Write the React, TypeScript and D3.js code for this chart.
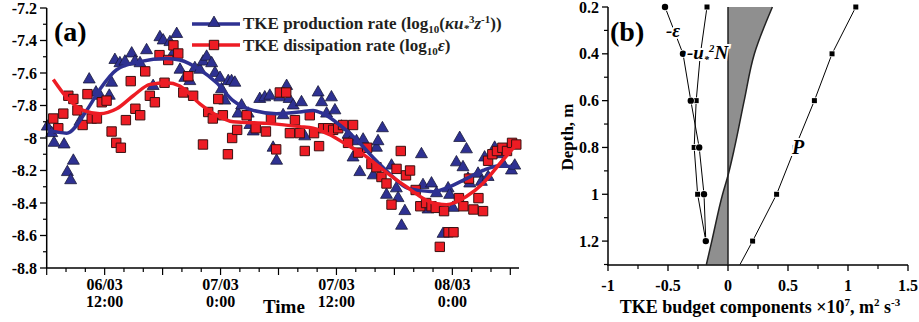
import React from "react";
import * as d3 from "d3";

// panel (a): hours after 06/03 06:00
const prodHours = [0.06, 0.52, 0.76, 1.8, 2.14, 2.48, 2.76, 3.44, 4.4, 5.1, 5.52, 6.48, 6.72, 7.06, 7.58, 8.1, 8.8, 9.14, 9.66, 10.34, 11.02, 11.72, 12.06, 12.76, 13.46, 13.1, 13.8, 14.3, 14.82, 15.34, 15.86, 16.2, 16.56, 17.08, 17.42, 17.94, 18.1, 18.44, 18.8, 19.14, 19.48, 19.82, 20.18, 20.86, 21.04, 21.38, 22.06, 22.58, 23.1, 23.44, 23.8, 24.14, 24.48, 24.84, 25.1, 25.52, 26.38, 26.72, 28.1, 28.46, 28.98, 29.48, 29.84, 30.52, 31.2, 31.56, 31.72, 32.08, 32.42, 32.76, 33.8, 34.14, 34.3, 34.76, 35.18, 35.7, 36.2, 36.38, 36.74, 37.08, 38.8, 38.96, 39.48, 39.84, 40.36, 41.04, 41.56, 41.72, 42.06, 42.42, 42.76, 43.1, 43.46, 43.62, 43.8, 44.66, 45, 45.34, 45.7, 46.38, 46.9, 47.24, 48.12, 48.46];
const prodValues = [-7.93, -7.97, -8.03, -8.04, -8.21, -8.26, -8.14, -7.9, -7.64, -7.72, -7.74, -7.74, -7.66, -7.52, -7.54, -7.53, -7.48, -7.53, -7.54, -7.46, -7.68, -7.38, -7.4, -7.41, -7.36, -7.48, -7.58, -7.63, -7.65, -7.57, -7.58, -7.53, -7.5, -7.54, -7.6, -7.63, -7.7, -7.77, -7.65, -7.65, -7.66, -7.85, -7.8, -7.85, -7.92, -7.96, -7.76, -7.75, -7.74, -8.06, -8.14, -7.75, -7.86, -7.68, -7.76, -7.8, -7.78, -7.99, -7.72, -7.78, -7.85, -7.75, -7.83, -7.93, -7.98, -8.01, -8.12, -8.02, -8.21, -8.01, -8.23, -8.06, -8.02, -7.94, -8.35, -8.17, -8.31, -8.37, -8.54, -8.45, -8.1, -8.29, -8.44, -8.28, -8.34, -8.59, -8.31, -8.35, -8.43, -8.15, -8.0, -8.18, -8.07, -8.25, -8.28, -8.22, -8.27, -8.12, -8.24, -8.06, -8.1, -8.16, -8.2, -8.17];

const dissHours = [0.68, 1.2, 1.72, 2.24, 2.76, 3.18, 3.72, 4.22, 4.66, 5.2, 5.7, 6.2, 6.72, 7.2, 7.68, 8.2, 8.7, 9.18, 9.68, 10.2, 10.68, 11.2, 11.68, 12.2, 12.58, 13.12, 13.62, 14.14, 14.66, 15.16, 16.18, 16.72, 17.2, 17.76, 18.24, 18.76, 19.2, 19.72, 20.7, 21.64, 22.7, 23.22, 23.76, 24.14, 24.8, 25.18, 25.7, 26.2, 26.72, 27.24, 27.68, 28.2, 28.62, 29.14, 29.66, 30.18, 30.68, 31.2, 31.72, 32.24, 33.18, 33.62, 34.14, 34.66, 35.18, 35.7, 36.22, 36.66, 37.2, 37.62, 38.2, 38.68, 39.28, 39.84, 40.28, 40.7, 41.14, 41.6, 42.12, 42.68, 43.14, 43.72, 44.18, 44.7, 45.18, 45.7, 46.14, 46.62, 47.18, 47.66, 48.18, 48.62];
const dissValues = [-7.88, -7.94, -7.85, -7.74, -7.76, -7.83, -7.92, -7.73, -7.88, -7.88, -7.78, -7.77, -7.96, -8.03, -8.06, -7.89, -7.65, -7.82, -7.86, -7.59, -7.74, -7.78, -7.49, -7.66, -7.52, -7.43, -7.48, -7.72, -7.62, -7.74, -8.04, -7.84, -7.88, -7.76, -7.86, -8.1, -8.0, -7.95, -7.86, -7.94, -7.96, -7.88, -8.07, -7.72, -7.72, -7.97, -7.89, -7.97, -8.08, -7.86, -7.97, -8.05, -7.94, -7.94, -7.95, -7.94, -7.92, -8.03, -7.92, -8.09, -8.06, -8.16, -8.18, -8.24, -8.28, -8.41, -8.19, -8.08, -8.23, -8.2, -8.32, -8.42, -8.4, -8.42, -8.43, -8.67, -8.45, -8.58, -8.58, -8.37, -8.42, -8.25, -8.44, -8.37, -8.45, -8.14, -8.1, -8.08, -8.06, -8.08, -8.03, -8.04];

// smoothed fits
const prodFitHours = [0.13, 2.07, 4.14, 5.51, 7.24, 9.65, 12.41, 13.79, 15.86, 17.59, 19.3, 21.37, 23.79, 26.2, 27.58, 28.61, 30.34, 32.07, 33.79, 35.51, 37.41, 40, 41.72, 43.45, 45.16, 46.88, 48.44];
const prodFitValues = [-7.95, -7.97, -7.83, -7.7, -7.58, -7.53, -7.51, -7.52, -7.58, -7.66, -7.77, -7.83, -7.85, -7.84, -7.83, -7.85, -7.92, -8.01, -8.12, -8.22, -8.31, -8.33, -8.3, -8.25, -8.2, -8.17, -8.18];
const dissFitHours = [0.68, 2.07, 3.79, 5.51, 7.24, 8.96, 10.69, 12.41, 13.79, 15.86, 17.59, 19.3, 22.76, 26.2, 27.58, 29.31, 31.03, 32.75, 34.48, 37.24, 40, 41.38, 43.45, 45.16, 46.88, 48.62];
const dissFitValues = [-7.64, -7.75, -7.83, -7.85, -7.82, -7.74, -7.67, -7.66, -7.68, -7.79, -7.86, -7.9, -7.91, -7.93, -7.94, -7.98, -8.04, -8.1, -8.18, -8.3, -8.4, -8.41, -8.36, -8.28, -8.16, -8.04];

const timeTickHours = [6, 18, 30, 42];
const timeTickLabels = [["06/03", "12:00"], ["07/03", "0:00"], ["07/03", "12:00"], ["08/03", "0:00"]];

// panel (b)
const depths = [0.2, 0.4, 0.6, 0.8, 1.0, 1.2];
const epsValues = [-0.525, -0.375, -0.31, -0.24, -0.2, -0.185];
const buoyValues = [-0.175, -0.23, -0.265, -0.282, -0.253, -0.185];
const pDepths = [0.2, 0.4, 0.6, 0.8, 1.0, 1.2, 1.3];
const pValues = [1.065, 0.867, 0.72, 0.56, 0.405, 0.205, 0.1];
const residDepths = [0.2, 0.4, 0.6, 0.8, 0.92, 1.0, 1.2, 1.3];
const residValues = [0.37, 0.22, 0.135, 0.055, 0, -0.045, -0.135, -0.18];

const FONT = "'Liberation Serif', 'Times New Roman', serif";
const BLUE = "#2e3192";
const RED = "#ed1c24";

const App = () => {
  // panel a scales
  const xa = d3.scaleLinear().domain([0, 48.9]).range([46.7, 519]);
  const ya = d3.scaleLinear().domain([-8.8, -7.2]).range([268, 8]);
  // panel b scales
  const xb = d3.scaleLinear().domain([-1, 1.5]).range([608, 908]);
  const yb = d3.scaleLinear().domain([0.2, 1.3]).range([7, 264.5]);

  const tri = d3.symbol(d3.symbolTriangle, 62)();
  const sq = d3.symbol(d3.symbolSquare, 88)();

  const fitLine = d3.line<number>().curve(d3.curveMonotoneX);
  const prodFit = fitLine(prodFitHours.map((h, i) => [xa(h), ya(prodFitValues[i])]) as any);
  const dissFit = fitLine(dissFitHours.map((h, i) => [xa(h), ya(dissFitValues[i])]) as any);

  const yaMajor = d3.range(-8.8, -7.19, 0.2);
  const yaMinor = d3.range(-8.7, -7.2, 0.2);
  const xaMinor = d3.range(0, 49, 2);

  const bLine = d3.line<[number, number]>().x(d => xb(d[0])).y(d => yb(d[1]));
  const residArea = d3.area<number>()
    .y((_, i) => yb(residDepths[i]))
    .x0(() => xb(0))
    .x1((d) => xb(d))
    .curve(d3.curveMonotoneY);
  const residLine = d3.line<number>()
    .y((_, i) => yb(residDepths[i]))
    .x(d => xb(d))
    .curve(d3.curveMonotoneY);

  const ybMajor = [0.2, 0.4, 0.6, 0.8, 1.0, 1.2];
  const ybMinor = [0.3, 0.5, 0.7, 0.9, 1.1, 1.3];
  const xbMajor = [-1, -0.5, 0, 0.5, 1, 1.5];
  const xbMinor = d3.range(-0.75, 1.5, 0.5);

  const fmt = (v: number) => String(+v.toFixed(1));
  const halo = { stroke: "white", strokeWidth: 4, paintOrder: "stroke" as const };

  return (
    <svg width={919} height={322} style={{ display: "block", position: "absolute", left: 0, top: 0, background: "white" }}
      fontFamily={FONT} fontWeight="bold">
      {/* ---------- panel (a) ---------- */}
      <g>
        {prodHours.map((h, i) => (
          <path key={"p" + i} d={tri!} transform={`translate(${xa(h)},${ya(prodValues[i])})`}
            fill={BLUE} stroke="#1b1b3a" strokeWidth={0.8} />
        ))}
        {dissHours.map((h, i) => (
          <path key={"d" + i} d={sq!} transform={`translate(${xa(h)},${ya(dissValues[i])})`}
            fill={RED} stroke="#3a1010" strokeWidth={1} />
        ))}
        <path d={prodFit!} fill="none" stroke={BLUE} strokeWidth={3.5} />
        <path d={dissFit!} fill="none" stroke={RED} strokeWidth={3.5} />

        {/* axes */}
        <line x1={46.7} x2={46.7} y1={ya(-7.2)} y2={268} stroke="black" strokeWidth={1.5} />
        <line x1={46} x2={519} y1={268} y2={268} stroke="black" strokeWidth={1.5} />
        {yaMajor.map((v, i) => (
          <g key={"ya" + i}>
            <line x1={40} x2={46.7} y1={ya(v)} y2={ya(v)} stroke="black" strokeWidth={1.3} />
            <text x={37} y={ya(v) + 5.5} textAnchor="end" fontSize={16}>{fmt(v)}</text>
          </g>
        ))}
        {yaMinor.map((v, i) => (
          <line key={"yam" + i} x1={43} x2={46.7} y1={ya(v)} y2={ya(v)} stroke="black" strokeWidth={1.2} />
        ))}
        {xaMinor.map((h, i) => (
          <line key={"xam" + i} x1={xa(h)} x2={xa(h)} y1={268} y2={h % 6 === 0 ? 275 : 272}
            stroke="black" strokeWidth={1.2} />
        ))}
        {timeTickHours.map((h, i) => (
          <text key={"xl" + i} x={xa(h)} textAnchor="middle" fontSize={16}>
            <tspan x={xa(h)} y={290}>{timeTickLabels[i][0]}</tspan>
            <tspan x={xa(h)} y={307}>{timeTickLabels[i][1]}</tspan>
          </text>
        ))}
        <text x={263} y={313} fontSize={19}>Time</text>
        <text x={54} y={41} fontSize={28}>(a)</text>

        {/* legend */}
        <line x1={192} x2={240} y1={24} y2={24} stroke={BLUE} strokeWidth={3.5} />
        <path d={tri!} transform="translate(214,23)" fill={BLUE} stroke="#1b1b3a" strokeWidth={0.8} />
        <line x1={192} x2={240} y1={45} y2={45} stroke={RED} strokeWidth={3.5} />
        <path d={sq!} transform="translate(214,45)" fill={RED} stroke="#3a1010" strokeWidth={1} />
        <text x={243} y={29} fontSize={17} fill="#231f20">
          TKE production rate (log<tspan fontSize={11} dy={4}>10</tspan>
          <tspan dy={-4}>(</tspan><tspan fontStyle="italic">κu</tspan>
          <tspan fontSize={11} dy={3} fontStyle="italic">*</tspan>
          <tspan fontSize={11} dy={-9}>3</tspan>
          <tspan dy={6} fontStyle="italic">z</tspan>
          <tspan fontSize={11} dy={-6}>-1</tspan>
          <tspan dy={6}>))</tspan>
        </text>
        <text x={243} y={51} fontSize={17} fill="#231f20">
          TKE dissipation rate (log<tspan fontSize={11} dy={4}>10</tspan>
          <tspan dy={-4} fontStyle="italic">ε</tspan>)
        </text>
      </g>

      {/* ---------- panel (b) ---------- */}
      <g>
        <path d={residArea(residValues)!} fill="#8f8f8f" stroke="none" />
        <path d={residLine(residValues)!} fill="none" stroke="#222" strokeWidth={1.5} />
        <line x1={xb(0)} x2={xb(0)} y1={yb(0.2)} y2={yb(1.3)} stroke="#222" strokeWidth={1.5} />

        <path d={bLine(epsValues.map((v, i) => [v, depths[i]]))!} fill="none" stroke="black" strokeWidth={1} />
        <path d={bLine(buoyValues.map((v, i) => [v, depths[i]]))!} fill="none" stroke="black" strokeWidth={1} />
        <path d={bLine(pValues.map((v, i) => [v, pDepths[i]]))!} fill="none" stroke="black" strokeWidth={1} />

        {buoyValues.map((v, i) => (
          <rect key={"bu" + i} x={xb(v) - 2.5} y={yb(depths[i]) - 2.5} width={5} height={5}
            fill="black" stroke="white" strokeWidth={1.5} paintOrder="stroke" />
        ))}
        {epsValues.map((v, i) => (
          <circle key={"ep" + i} cx={xb(v)} cy={yb(depths[i])} r={3.2}
            fill="black" stroke="white" strokeWidth={1.5} paintOrder="stroke" />
        ))}
        {pValues.slice(0, 6).map((v, i) => (
          <rect key={"pp" + i} x={xb(v) - 2.5} y={yb(pDepths[i]) - 2.5} width={5} height={5}
            fill="black" stroke="white" strokeWidth={1.5} paintOrder="stroke" />
        ))}

        <text x={666} y={37} fontSize={19} fontStyle="italic" {...halo}>-ε</text>
        <text x={687} y={59} fontSize={19} fontStyle="italic" {...halo}>
          -u<tspan fontSize={10} dy={4}>*</tspan><tspan fontSize={11} dy={-11}>2</tspan>
          <tspan dy={7}>N</tspan>
        </text>
        <text x={792} y={154} fontSize={20} fontStyle="italic" {...halo}>P</text>

        {/* axes */}
        <line x1={608} x2={608} y1={yb(0.2)} y2={265} stroke="black" strokeWidth={1.5} />
        <line x1={607} x2={908} y1={265} y2={265} stroke="black" strokeWidth={1.5} />
        {ybMajor.map((v, i) => (
          <g key={"yb" + i}>
            <line x1={602} x2={608} y1={yb(v)} y2={yb(v)} stroke="black" strokeWidth={1.3} />
            <text x={599} y={yb(v) + 5.5} textAnchor="end" fontSize={16}>{fmt(v)}</text>
          </g>
        ))}
        {ybMinor.map((v, i) => (
          <line key={"ybm" + i} x1={604} x2={608} y1={yb(v)} y2={yb(v)} stroke="black" strokeWidth={1.2} />
        ))}
        {xbMajor.map((v, i) => (
          <g key={"xb" + i}>
            <line x1={xb(v)} x2={xb(v)} y1={265} y2={271} stroke="black" strokeWidth={1.3} />
            <text x={xb(v)} y={291} textAnchor="middle" fontSize={16}>{fmt(v)}</text>
          </g>
        ))}
        {xbMinor.map((v, i) => (
          <line key={"xbm" + i} x1={xb(v)} x2={xb(v)} y1={265} y2={269} stroke="black" strokeWidth={1.2} />
        ))}
        <text x={610} y={41} fontSize={28}>(b)</text>
        <text transform="translate(573,137) rotate(-90)" textAnchor="middle" fontSize={17}>Depth, m</text>
        <text x={760} y={313} textAnchor="middle" fontSize={18}>
          TKE budget components ×10<tspan fontSize={11} dy={-7}>7</tspan>
          <tspan dy={7}>, m</tspan><tspan fontSize={11} dy={-7}>2</tspan>
          <tspan dy={7}> s</tspan><tspan fontSize={11} dy={-7}>-3</tspan>
        </text>
      </g>
    </svg>
  );
};

export default App;
